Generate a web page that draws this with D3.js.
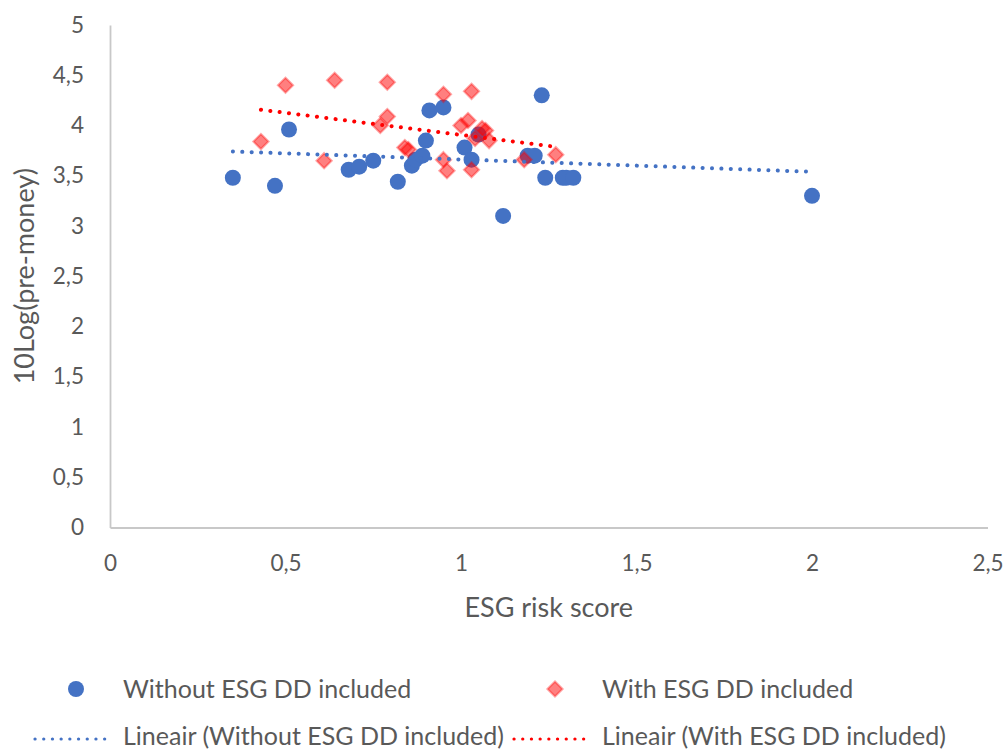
<!DOCTYPE html>
<html>
<head>
<meta charset="utf-8">
<script src="https://cdn.jsdelivr.net/npm/d3@7"></script>
<style>
  body { margin: 0; background: #fff; }
  text { font-family: Lato, "Open Sans", sans-serif; fill: #595959; }
</style>
</head>
<body>
<div id="chart"></div>
<script>
// values
const withoutX = [0.35, 0.47, 0.51, 0.68, 0.71, 0.75, 0.82, 0.86, 0.87, 0.89, 0.90, 0.91, 0.95,
  1.01, 1.03, 1.05, 1.12, 1.19, 1.21, 1.23, 1.24, 1.29, 1.30, 1.32, 2.00];
const withoutY = [3.48, 3.40, 3.96, 3.56, 3.59, 3.65, 3.44, 3.60, 3.66, 3.70, 3.85, 4.15, 4.18,
  3.78, 3.66, 3.91, 3.10, 3.70, 3.70, 4.30, 3.48, 3.48, 3.48, 3.48, 3.30];

const withX = [0.43, 0.50, 0.61, 0.64, 0.77, 0.79, 0.79, 0.84, 0.85, 0.95, 0.95, 0.96, 1.00,
  1.02, 1.03, 1.03, 1.04, 1.06, 1.07, 1.08, 1.18, 1.27];
const withY = [3.84, 4.40, 3.65, 4.45, 4.00, 4.09, 4.43, 3.78, 3.76, 4.31, 3.66, 3.55, 4.00,
  4.05, 4.34, 3.56, 3.87, 3.97, 3.95, 3.85, 3.66, 3.71];

const xTicks = [0, 0.5, 1, 1.5, 2, 2.5];
const yTicks = [0, 0.5, 1, 1.5, 2, 2.5, 3, 3.5, 4, 4.5, 5];

const seriesNames = ["Without ESG DD included", "With ESG DD included"];
const trendNames = ["Lineair (Without ESG DD included)", "Lineair (With ESG DD included)"];

let svgWidth = 1006;
let svgHeight = 752;

let margin = { top: 25, right: 18.5, bottom: 224.5, left: 110 };
let width = svgWidth - margin.left - margin.right;
let height = svgHeight - margin.top - margin.bottom;

const blue = "#4472C4";
const red = "#FF0000";

let svg = d3.select("#chart")
  .append("svg")
  .attr("width", svgWidth)
  .attr("height", svgHeight);

let chartGroup = svg.append("g")
  .attr("transform", `translate(${margin.left}, ${margin.top})`);

let xScale = d3.scaleLinear().domain([0, 2.5]).range([0, width]);
let yScale = d3.scaleLinear().domain([0, 5]).range([height, 0]);

// comma decimals as in the original
const fmt = d => String(d).replace(".", ",");

let xAxis = chartGroup.append("g")
  .attr("transform", `translate(0, ${height})`)
  .call(d3.axisBottom(xScale).tickValues(xTicks).tickFormat(fmt).tickSize(0).tickPadding(28));

let yAxis = chartGroup.append("g")
  .call(d3.axisLeft(yScale).tickValues(yTicks).tickFormat(fmt).tickSize(0).tickPadding(26));

[xAxis, yAxis].forEach(ax => {
  ax.select(".domain").attr("stroke", "#c8c8c8").attr("stroke-width", 1.8);
  ax.selectAll("text").style("font-size", "22.5px").attr("fill", "#595959");
});

// axis titles
chartGroup.append("text")
  .attr("x", width / 2)
  .attr("y", height + 89)
  .attr("text-anchor", "middle")
  .style("font-size", "27px")
  .text("ESG risk score");

chartGroup.append("text")
  .attr("transform", "rotate(-90)")
  .attr("x", -height / 2)
  .attr("y", -76)
  .attr("text-anchor", "middle")
  .style("font-size", "27px")
  .text("10Log(pre-money)");

const diamond = h => `M0,${-h}L${h},0L0,${h}L${-h},0Z`;

let withoutData = withoutX.map((x, i) => ({ x: x, y: withoutY[i] }));
let withData = withX.map((x, i) => ({ x: x, y: withY[i] }));

chartGroup.append("g").selectAll("circle")
  .data(withoutData)
  .enter()
  .append("circle")
  .attr("cx", d => xScale(d.x))
  .attr("cy", d => yScale(d.y))
  .attr("r", 8)
  .attr("fill", blue);

chartGroup.append("g").selectAll("path")
  .data(withData)
  .enter()
  .append("path")
  .attr("transform", d => `translate(${xScale(d.x)}, ${yScale(d.y)})`)
  .attr("d", diamond(7.5))
  .attr("fill", red)
  .attr("fill-opacity", 0.5)
  .attr("stroke", red)
  .attr("stroke-opacity", 0.35)
  .attr("stroke-width", 2.2);

// least squares trendline, like Excel's "Lineair"
function trend(data) {
  let mx = d3.mean(data, d => d.x);
  let my = d3.mean(data, d => d.y);
  let sxy = d3.sum(data, d => (d.x - mx) * (d.y - my));
  let sxx = d3.sum(data, d => (d.x - mx) * (d.x - mx));
  let b = sxy / sxx;
  let a = my - b * mx;
  let [x0, x1] = d3.extent(data, d => d.x);
  return [{ x: x0, y: a + b * x0 }, { x: x1, y: a + b * x1 }];
}

let line = d3.line().x(d => xScale(d.x)).y(d => yScale(d.y));

[[withoutData, blue], [withData, red]].forEach(([data, color]) => {
  chartGroup.append("path")
    .datum(trend(data))
    .attr("d", line)
    .attr("fill", "none")
    .attr("stroke", color)
    .attr("stroke-width", 4)
    .attr("stroke-linecap", "round")
    .attr("stroke-dasharray", "0.1 9.3");
});

// legend
let legend = svg.append("g");

legend.append("circle").attr("cx", 76).attr("cy", 689).attr("r", 8).attr("fill", blue);
legend.append("text").attr("x", 123).attr("y", 689).attr("dy", "0.35em")
  .style("font-size", "25px").text(seriesNames[0]);

legend.append("path").attr("transform", "translate(555, 689)")
  .attr("d", diamond(7.5))
  .attr("fill", red).attr("fill-opacity", 0.5)
  .attr("stroke", red).attr("stroke-opacity", 0.35).attr("stroke-width", 2.2);
legend.append("text").attr("x", 602).attr("y", 689).attr("dy", "0.35em")
  .style("font-size", "25px").text(seriesNames[1]);

[[35, blue, 123, trendNames[0]], [514, red, 602, trendNames[1]]].forEach(([lx, color, tx, name]) => {
  legend.append("line")
    .attr("x1", lx).attr("x2", lx + 78)
    .attr("y1", 739).attr("y2", 739)
    .attr("stroke", color)
    .attr("stroke-width", 3.2)
    .attr("stroke-linecap", "round")
    .attr("stroke-dasharray", "0.1 8.6");
  legend.append("text").attr("x", tx).attr("y", 736).attr("dy", "0.35em")
    .style("font-size", "25px").text(name);
});
</script>
</body>
</html>
